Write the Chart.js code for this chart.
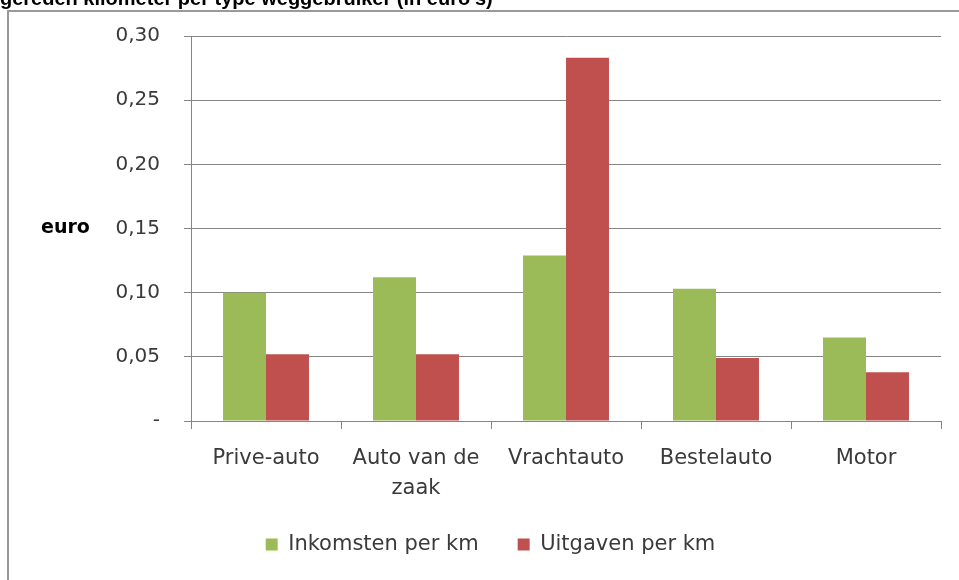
<!DOCTYPE html>
<html>
<head>
<meta charset="utf-8">
<script src="https://cdn.jsdelivr.net/npm/chart.js@4.4.0/dist/chart.umd.min.js"></script>
<style>
    html, body { margin: 0; padding: 0; background: #fff; }
    #wrap { position: relative; width: 959px; height: 580px; }
</style>
</head>
<body>
<div id="wrap"><canvas id="chart" width="959" height="580"></canvas></div>
<script>
// ============================================
// DATA
// ============================================

const categories = ['Prive-auto', ['Auto van de', 'zaak'], 'Vrachtauto', 'Bestelauto', 'Motor'];
const inkomsten = [0.100, 0.112, 0.129, 0.103, 0.065];
const uitgaven = [0.052, 0.052, 0.283, 0.049, 0.038];
const seriesNames = ['Inkomsten per km', 'Uitgaven per km'];
const titleText = "gereden kilometer per type weggebruiker (in euro's)";
const axisLabel = 'euro';

const GREEN = '#9bbb59';
const RED = '#c0504d';
const GRID = '#858585';
const TEXT = '#3a3a3a';
const FONT = "'DejaVu Sans', sans-serif";

// frame, cut-off title and the horizontal "euro" label
const decorPlugin = {
    id: 'decor',
    beforeDraw(chart) {
        const ctx = chart.ctx;
        ctx.save();
        ctx.fillStyle = '#fff';
        ctx.fillRect(0, 0, chart.width, chart.height);
        ctx.strokeStyle = '#9a9a9a';
        ctx.lineWidth = 2;
        ctx.beginPath();
        ctx.moveTo(8, chart.height);
        ctx.lineTo(8, 11);
        ctx.lineTo(chart.width, 11);
        ctx.stroke();
        ctx.fillStyle = '#000';
        ctx.font = "bold 20px 'Liberation Sans', Arial, sans-serif";
        ctx.textBaseline = 'alphabetic';
        ctx.fillText(titleText, 0, 5);
        ctx.restore();
    },
    afterDraw(chart) {
        const ctx = chart.ctx;
        const y = chart.scales.y.getPixelForValue(0.15);
        ctx.save();
        ctx.fillStyle = '#000';
        ctx.font = 'bold 19px ' + FONT;
        ctx.textBaseline = 'middle';
        ctx.fillText(axisLabel, 41, y);
        ctx.restore();
    }
};

new Chart(document.getElementById('chart'), {
    type: 'bar',
    data: {
        labels: categories,
        datasets: [
            { label: seriesNames[0], data: inkomsten, backgroundColor: GREEN },
            { label: seriesNames[1], data: uitgaven, backgroundColor: RED }
        ]
    },
    options: {
        responsive: false,
        animation: false,
        events: [],
        categoryPercentage: 0.573,
        barPercentage: 1.0,
        layout: { padding: { top: 30, right: 18, bottom: 15, left: 40 } },
        plugins: {
            tooltip: { enabled: false },
            legend: {
                position: 'bottom',
                labels: {
                    color: TEXT,
                    font: { family: FONT, size: 21 },
                    boxWidth: 12,
                    boxHeight: 12,
                    padding: 39
                }
            }
        },
        scales: {
            x: {
                grid: { offset: true, drawOnChartArea: false, color: GRID, tickLength: 8 },
                border: { color: GRID },
                ticks: {
                    color: TEXT,
                    font: { family: FONT, size: 21, lineHeight: 1.45 },
                    padding: 14,
                    maxRotation: 0,
                    autoSkip: false
                },
                afterFit(scale) { scale.height = 74; }
            },
            y: {
                min: 0,
                max: 0.30,
                grid: { color: GRID, tickLength: 7 },
                border: { color: GRID },
                ticks: {
                    stepSize: 0.05,
                    color: TEXT,
                    font: { family: FONT, size: 20 },
                    padding: 24,
                    callback: v => v === 0 ? '-' : v.toFixed(2).replace('.', ',')
                },
                afterFit(scale) { scale.width = 151; }
            }
        }
    },
    plugins: [decorPlugin]
});
</script>
</body>
</html>
